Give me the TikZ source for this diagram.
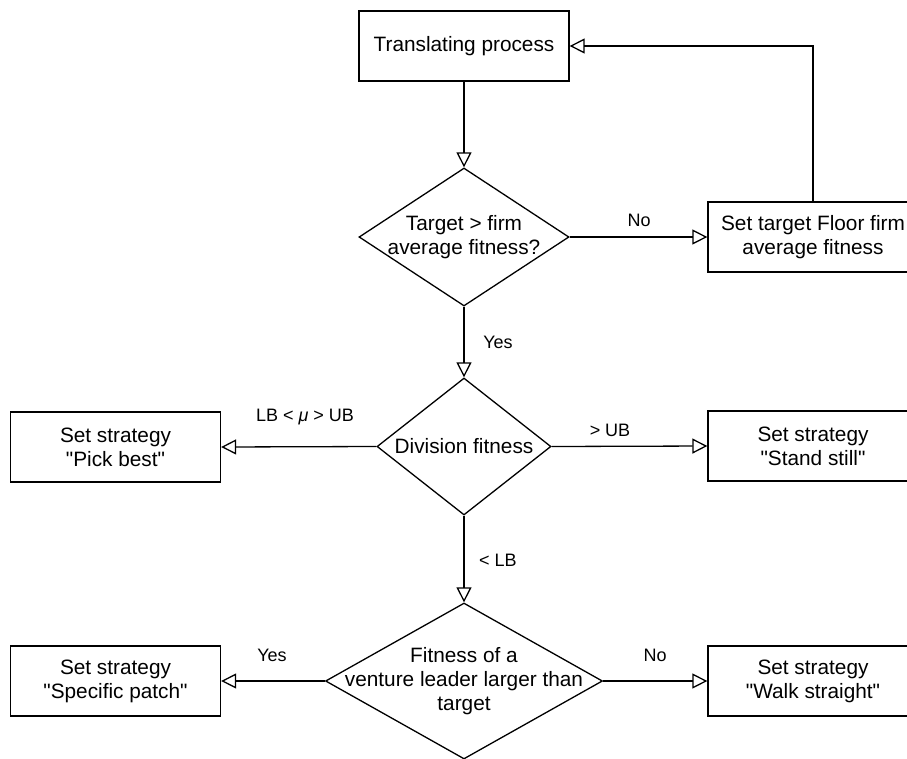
\documentclass[tikz,border=0pt]{standalone}
\usepackage{fontspec}
\setmainfont{Liberation Sans}[Ligatures=TeXOff]
\usetikzlibrary{arrows.meta,shapes.geometric}
\newcommand\bxfont{\fontsize{20.8}{24}\selectfont}
\newcommand\lbfont{\fontsize{18}{21}\selectfont}
\begin{document}
\begin{tikzpicture}[x=1pt,y=-1pt,
  box/.style={draw, line width=1.3pt, minimum width=210pt, minimum height=70pt,
              inner sep=0pt, align=center, font=\bxfont},
  dia/.style={draw, diamond, line width=1.3pt, inner sep=0pt},
  txt/.style={align=center, font=\bxfont, inner sep=0pt},
  lbl/.style={font=\lbfont, inner sep=0pt},
  arr/.style={line width=1.3pt, -{Triangle[open,length=15pt,width=15pt]}}]
\useasboundingbox (0,0) rectangle (907,758);
\clip (0,0) rectangle (907,758);

% process boxes
\node[box] (tp) at (464,46)  {Translating process};
\node[box] (st) at (813,237) {Set target Floor firm\\average fitness};
\node[box] (pb) at (115.5,447) {Set strategy\\"Pick best"};
\node[box] (ss) at (813,446) {Set strategy\\"Stand still"};
\node[box] (sp) at (115.5,681) {Set strategy\\"Specific patch"};
\node[box] (ws) at (813,681) {Set strategy\\"Walk straight"};

% decisions
\node[dia, minimum width=210pt, minimum height=138pt] (d1) at (464,237) {};
\node[txt] (d1t) at (d1.center) {Target > firm\\average fitness?};
\node[dia, minimum width=174pt, minimum height=137pt] (d2) at (464,446.5) {};
\node[txt] (d2t) at (d2.center) {Division fitness};
\node[dia, minimum width=277pt, minimum height=156pt] (d3) at (464,681) {};
\node[txt] (d3t) at (d3.center) {Fitness of a\\venture leader larger than\\target};

% connectors
\draw[arr] (tp.south) -- (d1.north);
\draw[arr] (d1.east) -- (st.west);
\draw[arr] (st.north) |- (tp.east);
\draw[arr] (d1.south) -- (d2.north);
\draw[arr] (d2.west) -- (pb.east);
\draw[arr] (d2.east) -- (ss.west);
\draw[arr] (d2.south) -- (d3.north);
\draw[arr] (d3.west) -- (sp.east);
\draw[arr] (d3.east) -- (ws.west);

% connector labels
\node[lbl] (l1) at (639,220) {No};
\node[lbl] (l2) at (498,342) {Yes};
\node[lbl] (l3) at (305,417) {LB < {\itshape μ} > UB};
\node[lbl] (l4) at (610,430) {> UB};
\node[lbl] (l5) at (498,560) {< LB};
\node[lbl] (l6) at (272,655) {Yes};
\node[lbl] (l7) at (655,655) {No};
\end{tikzpicture}
\end{document}
